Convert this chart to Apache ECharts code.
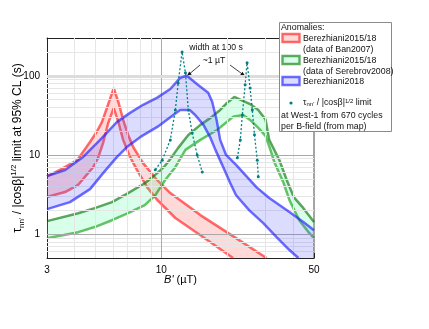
<!DOCTYPE html>
<html>
<head>
<meta charset="utf-8">
<script src="https://cdn.jsdelivr.net/npm/echarts@6/dist/echarts.min.js"></script>
<style>
html, body { margin: 0; padding: 0; background: #fff; }
#chart { width: 429px; height: 329px; }
</style>
</head>
<body>
<div id="chart"></div>
<script>
// 坐标范围
var xMin = 3, xMax = 50
var yMin = 0.5, yMax = 300
var xLabels = [3, 10, 50]
var yLabels = [1, 10, 100]
var xMinorGrid = [4, 5, 6, 7, 8, 9, 20, 30, 40]
var yMinorGrid = [0.6, 0.7, 0.8, 0.9, 2, 3, 4, 5, 6, 7, 8, 9, 20, 30, 40, 50, 60, 70, 80, 90, 200]

// Berezhiani2015/18 (data of Ban2007)
var redUpperB = [3, 3.44, 4.12, 4.72, 5.06, 5.35, 5.65, 6.06, 6.39, 6.69, 7.05, 7.44, 8.26, 9.59, 11.0, 15.1, 22.0, 30.3]
var redUpperV = [5.4, 6.5, 8.6, 14.6, 19.5, 26, 40, 70, 45, 28, 18, 12.6, 7.9, 4.8, 3.3, 1.74, 0.89, 0.5]
var redLowerB = [3, 3.63, 4.17, 4.88, 5.14, 5.42, 5.71, 6.06, 6.39, 6.69, 7.20, 7.74, 8.62, 9.59, 11.6, 15.1, 21.3]
var redLowerV = [2.94, 3.4, 4.2, 7.0, 9.2, 14.2, 25, 39, 25, 15.5, 9.4, 6.5, 3.9, 2.7, 1.6, 0.97, 0.5]

// Berezhiani2015/18 (data of Serebrov2008)
var greenUpperB = [3, 4.17, 4.96, 5.95, 7.05, 8.41, 9.59, 10.4, 11.0, 11.95, 13.3, 15.1, 16.8, 18.6, 20.0, 21.6, 23.0, 25.5, 27.8, 30.0, 31.2, 34.7, 37.5, 40.4, 44.7, 50]
var greenUpperV = [1.46, 1.84, 2.13, 2.54, 3.3, 4.4, 5.9, 7.3, 8.9, 12.3, 17.9, 24, 29.4, 37, 45.5, 54, 50, 44, 37, 28, 15.5, 8.65, 4.83, 2.94, 2.13, 1.42]
var greenLowerB = [3, 4.17, 4.96, 5.95, 7.05, 8.41, 9.39, 10.4, 11.6, 12.9, 15.1, 18.0, 21.3, 23.7, 25.5, 27.8, 30.0, 31.6, 32.9, 36.3, 38.6, 42.8, 47.6, 50]
var greenLowerV = [0.89, 1.06, 1.23, 1.5, 1.84, 2.33, 3.1, 4.8, 7.0, 11.6, 15.5, 20.7, 30.3, 32, 27.7, 22, 17.4, 11.6, 8.15, 4.43, 2.69, 1.5, 1.03, 0.89]

// Berezhiani2018
var blueUpperB = [3, 3.63, 4.39, 5.25, 6.26, 7.20, 8.26, 9.59, 11.0, 12.2, 13.1, 14.7, 16.4, 17.1, 17.9, 18.6, 19.8, 22.0, 27.3, 31.2, 38.6, 44.7, 50]
var blueUpperV = [5.4, 6.46, 9.44, 15.5, 26, 34, 43, 53, 68, 94, 100, 77, 61, 47, 28, 15.5, 10, 7.5, 3.9, 2.86, 1.9, 1.42, 1.12]
var blueLowerB = [3, 3.82, 4.72, 5.42, 6.26, 6.96, 8.03, 9.59, 11.0, 12.2, 13.5, 14.3, 15.6, 16.8, 17.7, 19.0, 20.7, 22.0, 25.3, 29.3, 33.7, 38.6, 42.4]
var blueLowerV = [2.07, 2.54, 3.7, 5.9, 9.4, 12.6, 16.9, 22.6, 30, 37, 37, 32, 24, 16.4, 11.6, 7.5, 4.4, 3.1, 2.0, 1.38, 0.92, 0.63, 0.5]

// West-1 limit (two scans)
var teal1B = [9.39, 10.1, 11.0, 11.6, 11.95, 12.45, 12.9, 13.3, 13.85, 14.6, 15.4]
var teal1V = [6.5, 8.6, 15.5, 37, 81, 200, 109, 37, 19, 10, 6.1]
var teal2B = [22.3, 23.0, 23.5, 24.2, 24.7, 25.5, 26.1, 26.7, 27.5, 27.8]
var teal2V = [9.2, 15.5, 32, 77, 146, 70, 37, 18, 8.6, 5.3]

var font = '"Liberation Sans", Arial, sans-serif'
var teal = '#008080'

function pairs(bs, vs) {
    return bs.map(function (b, i) { return [b, vs[i]] })
}

// 填充带 (上边界 + 反向下边界)
function band(upper, lower, fill, z, corner) {
    return {
        type: 'custom',
        silent: true,
        z: z,
        data: [[xMin, yMin]],
        renderItem: function (params, api) {
            var pts = upper.map(function (p) { return api.coord(p) })
            if (corner) pts.push(api.coord(corner))
            lower.slice().reverse().forEach(function (p) { pts.push(api.coord(p)) })
            return { type: 'polygon', shape: { points: pts }, style: { fill: fill } }
        }
    }
}

function edge(data, color, z) {
    return {
        type: 'line',
        silent: true,
        z: z,
        data: data,
        symbol: 'none',
        lineStyle: { color: color, width: 2.5 }
    }
}

var minorStyle = { color: '#e6e6e6', width: 1, type: 'solid' }
var majorStyle = { color: '#a9a9a9', width: 1, type: 'solid' }
var gridLines = []
xMinorGrid.forEach(function (v) { gridLines.push({ xAxis: v, lineStyle: minorStyle }) })
yMinorGrid.forEach(function (v) { gridLines.push({ yAxis: v, lineStyle: minorStyle }) })
gridLines.push({ xAxis: 10, lineStyle: majorStyle })
gridLines.push({ yAxis: 1, lineStyle: majorStyle })
gridLines.push({ yAxis: 10, lineStyle: majorStyle })
gridLines.push({ yAxis: 100, lineStyle: { color: '#dcdcdc', width: 3, type: 'solid' } })

function logAxis(pos, min, max, labels, extra) {
    var ax = {
        type: 'log',
        logBase: 10,
        min: min,
        max: max,
        position: pos,
        axisLine: { show: true, onZero: false, lineStyle: { color: '#222', width: 1 } },
        axisTick: { show: true, inside: true, length: 5, lineStyle: { color: '#222' } },
        minorTick: { show: true, splitNumber: 9, length: 3, lineStyle: { color: '#444' } },
        splitLine: { show: false },
        axisLabel: {
            show: !!labels,
            color: '#000',
            fontSize: 10,
            margin: 7,
            fontFamily: font,
            formatter: function (v) {
                for (var i = 0; labels && i < labels.length; i++) {
                    if (Math.abs(v - labels[i]) < 1e-6 * labels[i]) return String(labels[i])
                }
                return ''
            }
        }
    }
    return Object.assign(ax, extra || {})
}

var arrows = [[200, 65, 187, 76], [230, 65, 245, 76]]
var graphics = []
arrows.forEach(function (a) {
    var ang = Math.atan2(a[3] - a[1], a[2] - a[0]), L = 4.5, W = 2
    var c = Math.cos(ang), s = Math.sin(ang)
    graphics.push({ type: 'line', silent: true, shape: { x1: a[0], y1: a[1], x2: a[2] - c * 2, y2: a[3] - s * 2 }, style: { stroke: '#111', lineWidth: 0.8 } })
    graphics.push({ type: 'polygon', silent: true, shape: { points: [[a[2], a[3]], [a[2] - L * c + W * s, a[3] - L * s - W * c], [a[2] - L * c - W * s, a[3] - L * s + W * c]] }, style: { fill: '#111' } })
})
graphics.push({ type: 'text', x: 216, y: 48, style: { text: 'width at 100 s', fontSize: 8.7, fontFamily: font, fill: '#111', align: 'center', verticalAlign: 'middle' } })
graphics.push({ type: 'text', x: 214, y: 61, style: { text: '~1 µT', fontSize: 8.7, fontFamily: font, fill: '#111', align: 'center', verticalAlign: 'middle' } })

// 图例框
var lz = 100
graphics.push({ type: 'rect', z: lz, shape: { x: 279.5, y: 22.5, width: 112, height: 109 }, style: { fill: '#fff', stroke: '#8a8a8a', lineWidth: 1 } })
function ltext(x, y, t, rich) {
    graphics.push({ type: 'text', z: lz + 1, x: x, y: y, style: { text: t, fontSize: 8.8, fontFamily: font, fill: '#111', align: 'left', verticalAlign: 'middle', rich: rich } })
}
function swatch(y, fill, stroke) {
    graphics.push({ type: 'rect', z: lz + 1, shape: { x: 282.5, y: y, width: 17, height: 8 }, style: { fill: fill, stroke: stroke, lineWidth: 2.4 } })
}
ltext(281, 28, 'Anomalies:')
swatch(34, '#ffd8d8', 'rgba(255,20,20,0.62)')
ltext(303, 38.5, 'Berezhiani2015/18')
ltext(303, 49.5, '(data of Ban2007)')
swatch(56, '#d8ffea', 'rgba(0,120,0,0.62)')
ltext(303, 60.5, 'Berezhiani2015/18')
ltext(303, 71.5, '(data of Serebrov2008)')
swatch(77, '#dcdcff', 'rgba(30,30,255,0.65)')
ltext(303, 81.5, 'Berezhiani2018')
graphics.push({ type: 'circle', z: lz + 1, shape: { cx: 291, cy: 103, r: 1.6 }, style: { fill: teal } })
ltext(303, 103, 'τ{s|nn\'} / |cosβ|{p|1/2} limit', { s: { fontSize: 6, verticalAlign: 'bottom' }, p: { fontSize: 6, verticalAlign: 'top' } })
ltext(281, 116, 'at West-1 from 670 cycles')
ltext(281, 127, 'per B-field (from map)')

var option = {
    animation: false,
    grid: { left: 47, right: 115, top: 38, bottom: 71, containLabel: false, outerBoundsMode: 'none' },
    xAxis: [
        logAxis('bottom', xMin, xMax, xLabels, {
            name: '{i|B\'} (µT)',
            nameLocation: 'middle',
            nameGap: 16,
            nameMoveOverlap: false,
            nameTextStyle: { fontSize: 11, fontFamily: font, color: '#000', rich: { i: { fontSize: 11, fontStyle: 'italic', fontFamily: font } } }
        }),
        logAxis('top', xMin, xMax, null)
    ],
    yAxis: [
        logAxis('left', yMin, yMax, yLabels, {
            name: '{t|τ}{s|nn\'}{t| / |cosβ|}{p|1/2}{t| limit at 95% CL (s)}',
            nameLocation: 'middle',
            nameRotate: 90,
            nameGap: 21,
            nameMoveOverlap: false,
            nameTextStyle: {
                fontSize: 12, fontFamily: font, color: '#000',
                rich: {
                    t: { fontSize: 12, lineHeight: 16, fontFamily: font },
                    s: { fontSize: 8, verticalAlign: 'bottom', fontFamily: font },
                    p: { fontSize: 8, verticalAlign: 'top', fontFamily: font }
                }
            }
        }),
        logAxis('right', yMin, yMax, null, { axisLine: { show: true, onZero: false, lineStyle: { color: '#8e8e8e', width: 1.6 } } })
    ],
    series: [
        {
            type: 'line', silent: true, z: 0, data: [[xMin, yMin]], symbol: 'none',
            markLine: { silent: true, symbol: ['none', 'none'], label: { show: false }, animation: false, data: gridLines }
        },
        band(pairs(redUpperB, redUpperV), pairs(redLowerB, redLowerV), 'rgba(255,60,60,0.2)', 1),
        edge(pairs(redUpperB, redUpperV), 'rgba(255,20,20,0.62)', 2),
        edge(pairs(redLowerB, redLowerV), 'rgba(255,20,20,0.62)', 2),
        band(pairs(greenUpperB, greenUpperV), pairs(greenLowerB, greenLowerV), 'rgba(60,255,150,0.2)', 3),
        edge(pairs(greenUpperB, greenUpperV), 'rgba(0,110,0,0.62)', 4),
        edge(pairs(greenLowerB, greenLowerV), 'rgba(0,150,0,0.58)', 4),
        band(pairs(blueUpperB, blueUpperV), pairs(blueLowerB, blueLowerV), 'rgba(80,80,255,0.2)', 5, [xMax, yMin]),
        edge(pairs(blueUpperB, blueUpperV), 'rgba(30,30,255,0.65)', 6),
        edge(pairs(blueLowerB, blueLowerV), 'rgba(30,30,255,0.65)', 6),
        {
            name: 'West-1', type: 'line', silent: true, z: 7, data: pairs(teal1B, teal1V),
            symbol: 'circle', symbolSize: 3, showAllSymbol: true,
            itemStyle: { color: teal }, lineStyle: { color: teal, width: 1.3, type: [2, 2] }
        },
        {
            name: 'West-1', type: 'line', silent: true, z: 7, data: pairs(teal2B, teal2V),
            symbol: 'circle', symbolSize: 3, showAllSymbol: true,
            itemStyle: { color: teal }, lineStyle: { color: teal, width: 1.3, type: [2, 2] }
        }
    ],
    graphic: graphics
}

var chart = echarts.init(document.getElementById('chart'))
chart.setOption(option)
</script>
</body>
</html>
